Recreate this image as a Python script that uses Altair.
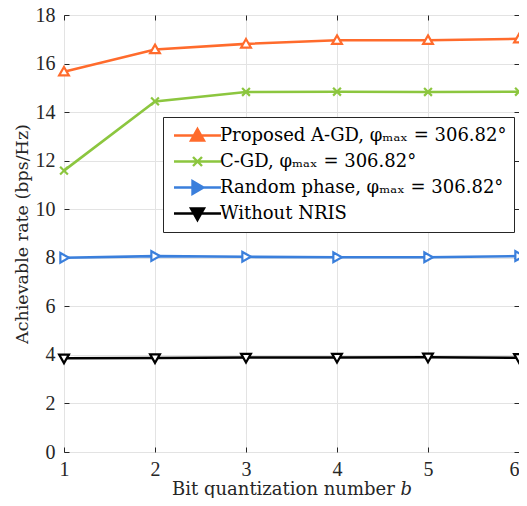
import altair as alt
import pandas as pd

bits = [1, 2, 3, 4, 5, 6]
series_names = [
    "Proposed A-GD, φₘₐₓ = 306.82°",
    "C-GD, φₘₐₓ = 306.82°",
    "Random phase, φₘₐₓ = 306.82°",
    "Without NRIS",
]
proposed = [15.66, 16.58, 16.81, 16.96, 16.96, 17.02]
cgd = [11.59, 14.44, 14.83, 14.84, 14.83, 14.84]
random_phase = [8.00, 8.07, 8.04, 8.02, 8.02, 8.07]
without_nris = [3.86, 3.87, 3.89, 3.89, 3.90, 3.88]
colors = ["#FF6B2C", "#8CC63F", "#3A7FDC", "#000000"]
y_ticks = [0, 2, 4, 6, 8, 10, 12, 14, 16, 18]

rows = []
for name, vals in zip(series_names, [proposed, cgd, random_phase, without_nris]):
    for b, v in zip(bits, vals):
        rows.append({"b": b, "rate": v, "series": name})
df = pd.DataFrame(rows)

TICKFONT = "Liberation Serif"
TEXTFONT = "DejaVu Serif"
FRAME = "#262626"

marker_paths = [
    "M0,-1L1,0.75L-1,0.75Z",
    "M-0.8,-0.8L0.8,0.8M-0.8,0.8L0.8,-0.8",
    "M1,0L-0.75,-1L-0.75,1Z",
    "M0,1L1,-0.75L-1,-0.75Z",
]
legend_paths = [
    "M-2.35,0H2.35M0,-0.65L0.65,0.5L-0.65,0.5Z",
    "M-2.35,0H2.35M-0.45,-0.45L0.45,0.45M-0.45,0.45L0.45,-0.45",
    "M-2.35,0H2.35M0.6,0L-0.5,-0.65L-0.5,0.65Z",
    "M-2.35,0H2.35M0,0.65L0.65,-0.5L-0.65,-0.5Z",
]

xscale = alt.Scale(domain=[1, 6], nice=False)
yscale = alt.Scale(domain=[0, 18], nice=False)
cscale = alt.Scale(domain=series_names, range=colors)

axis_common = dict(
    offset=-5, tickSize=5, tickColor=FRAME, tickWidth=1, domain=False,
    labelFont=TICKFONT, labelFontSize=20, labelColor=FRAME, labelFlush=False,
    titleFont=TEXTFONT, titleColor=FRAME, titleFontWeight="normal",
    gridColor="#E3E3E3", gridWidth=1,
)

lines = alt.Chart(df).mark_line(strokeWidth=2.6).encode(
    x=alt.X("b:Q", scale=xscale, axis=alt.Axis(
        orient="bottom", values=bits, format="d", grid=True,
        labelAlign=alt.condition("datum.value == 6", alt.value("right"), alt.value("center")),
        labelPadding=7, title="Bit quantization number 𝑏", titlePadding=1, titleFontSize=18,
        **axis_common)),
    y=alt.Y("rate:Q", scale=yscale, axis=alt.Axis(
        orient="left", values=y_ticks, format="d", grid=True,
        labelPadding=9, title="Achievable rate (bps/Hz)", titlePadding=4, titleFontSize=17.5,
        **axis_common)),
    color=alt.Color("series:N", scale=cscale, legend=None),
)

points = alt.Chart(df).mark_point(size=95, strokeWidth=2.2, fill="white", filled=False, opacity=1).encode(
    x=alt.X("b:Q", scale=xscale, axis=alt.Axis(
        orient="top", values=bits, labels=False, grid=False, title=None, **axis_common)),
    y=alt.Y("rate:Q", scale=yscale, axis=alt.Axis(
        orient="right", values=y_ticks, labels=False, grid=False, title=None, **axis_common)),
    color=alt.Color("series:N", scale=cscale, legend=None),
    shape=alt.Shape("series:N", scale=alt.Scale(domain=series_names, range=marker_paths), legend=None),
)

leg = dict(
    orient="none", legendX=99, legendY=102, title=None,
    fillColor="white", strokeColor=FRAME, padding=7, cornerRadius=0,
    labelFont=TEXTFONT, labelFontSize=18, labelColor="#000000", labelLimit=0,
    symbolSize=400, symbolStrokeWidth=2.4, labelOffset=11, symbolOffset=16,
    rowPadding=3, gridAlign="all",
)

legend_layer = alt.Chart(df).transform_filter("false").mark_point(filled=True, opacity=1).encode(
    x=alt.X("b:Q", scale=xscale, axis=None),
    y=alt.Y("rate:Q", scale=yscale, axis=None),
    color=alt.Color("series:N", scale=cscale, legend=alt.Legend(**leg)),
    stroke=alt.Stroke("series:N", scale=cscale, legend=alt.Legend(**leg)),
    shape=alt.Shape("series:N", scale=alt.Scale(domain=series_names, range=legend_paths),
                    legend=alt.Legend(**leg)),
)

chart = alt.layer(lines, points, legend_layer).resolve_axis(
    x="independent", y="independent"
).resolve_scale(
    color="independent", shape="independent", stroke="independent"
).properties(
    width=455, height=437,
    autosize=alt.AutoSizeParams(type="none"),
    padding={"left": 56, "top": 7, "right": 0, "bottom": 46},
).configure_view(stroke=FRAME, strokeWidth=1)

chart.save("out.html", embed_options={"renderer": "svg", "actions": False})
